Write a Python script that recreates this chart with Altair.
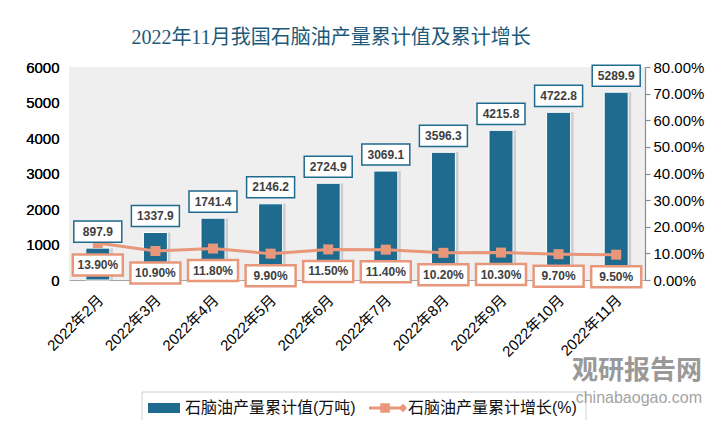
import altair as alt
import pandas as pd

months = ["2022年2月", "2022年3月", "2022年4月", "2022年5月", "2022年6月",
          "2022年7月", "2022年8月", "2022年9月", "2022年10月", "2022年11月"]
output = [897.9, 1337.9, 1741.4, 2146.2, 2724.9, 3069.1, 3596.3, 4215.8, 4722.8, 5289.9]
growth = [0.139, 0.109, 0.118, 0.099, 0.115, 0.114, 0.102, 0.103, 0.097, 0.095]

title_text = "2022年11月我国石脑油产量累计值及累计增长"
legend_bar = "石脑油产量累计值(万吨)"
legend_line = "石脑油产量累计增长(%)"

BAR = "#1F6A8F"
SALMON = "#E8977A"
FONT = "Liberation Sans, Noto Sans CJK SC"

df = pd.DataFrame({"month": months, "output": output, "growth": growth})
one = pd.DataFrame({"k": [0]})

xenc = alt.X("month:N", sort=months,
             scale=alt.Scale(paddingInner=0, paddingOuter=0),
             axis=alt.Axis(title=None, labelAngle=-45, labelAlign="right",
                           labelBaseline="middle", labelFontSize=15, labelFont=FONT,
                           labelColor="#000", labelPadding=17, labelOffset=3, ticks=False,
                           domainColor="#a6a6a6", domainWidth=1.2))

yl = alt.Y("output:Q", scale=alt.Scale(domain=[0, 6000]),
           axis=alt.Axis(title=None, values=[0, 1000, 2000, 3000, 4000, 5000, 6000],
                         format="d", grid=False, domain=False, ticks=False, labelFontSize=15,
                         labelFont=FONT, labelColor="#000", labelPadding=10))

base = alt.Chart(df).encode(x=xenc)

shadow = base.mark_bar(size=27, color="#000", opacity=0.14, xOffset=1.5).encode(y=yl)
bars = base.mark_bar(size=24, color=BAR, stroke="white", strokeWidth=1).encode(y=yl)
box_path = "M-1,-0.44H1V0.44H-1Z"
bar_box = base.mark_point(shape=box_path, size=48 * 48, filled=True, fill="white",
                          stroke=BAR, strokeWidth=1.5, opacity=1, yOffset=-16.5).encode(y=yl)
bar_txt = base.mark_text(fontSize=12, fontWeight="bold", color="#404040", font=FONT,
                         dy=-16.5, baseline="middle").encode(
    y=yl, text=alt.Text("output:Q", format=".1f"))

yr = alt.Y("growth:Q", scale=alt.Scale(domain=[0, 0.8]),
           axis=alt.Axis(title=None, orient="right", format=".2%",
                         values=[0, 0.1, 0.2, 0.3, 0.4, 0.5, 0.6, 0.7, 0.8],
                         grid=False, domain=True, domainColor="#8c8c8c", domainWidth=1.2,
                         ticks=True, tickColor="#8c8c8c", tickSize=5, tickWidth=1.2,
                         labelFontSize=15, labelFont=FONT, labelColor="#000",
                         labelPadding=3))

line = base.mark_line(color=SALMON, strokeWidth=3).encode(y=yr)
pts = base.mark_point(shape="square", size=100, filled=True, color=SALMON,
                      opacity=1).encode(y=yr)
pbox_path = "M-1,-0.42H1V0.42H-1Z"
pct_box = base.mark_point(shape=pbox_path, size=50 * 50, filled=True, fill="white",
                          stroke=SALMON, strokeWidth=2.5, opacity=1, yOffset=22).encode(y=yr)
pct_txt = base.mark_text(fontSize=12, fontWeight="bold", color="#404040", font=FONT,
                         dy=22, baseline="middle").encode(
    y=yr, text=alt.Text("growth:Q", format=".2%"))
right = alt.layer(line, pts, pct_box, pct_txt)

bar_boxes = alt.layer(bar_box, bar_txt)

oc = alt.Chart(one)
leg_frame = oc.mark_rect(fill="white", stroke="#d0d0d0", strokeWidth=1).encode(
    x=alt.value(73), x2=alt.value(517), y=alt.value(325), y2=alt.value(355))
leg_bar = oc.mark_rect(color=BAR).encode(
    x=alt.value(79), x2=alt.value(111), y=alt.value(336), y2=alt.value(346))
leg_t1 = oc.mark_text(align="left", baseline="middle", fontSize=16, font=FONT,
                      color="#111").encode(x=alt.value(116), y=alt.value(341),
                                            text=alt.value(legend_bar))
leg_rule = oc.mark_rule(color=SALMON, strokeWidth=3).encode(
    x=alt.value(300), x2=alt.value(335), y=alt.value(341))
leg_sq = oc.mark_point(shape="square", size=90, filled=True, color=SALMON, opacity=1).encode(
    x=alt.value(316), y=alt.value(341))
leg_dm = oc.mark_point(shape="diamond", size=70, filled=True, color=SALMON, opacity=1).encode(
    x=alt.value(334), y=alt.value(341))
leg_t2 = oc.mark_text(align="left", baseline="middle", fontSize=16, font=FONT,
                      color="#111").encode(x=alt.value(339), y=alt.value(341),
                                            text=alt.value(legend_line))
wm1 = oc.mark_text(align="right", baseline="alphabetic", fontSize=26, fontWeight="bold",
                   font="Noto Sans CJK SC", color="#8f8f8f", opacity=0.9).encode(
    x=alt.value(633), y=alt.value(312), text=alt.value("观研报告网"))
wm2 = oc.mark_text(align="right", baseline="alphabetic", fontSize=16, font=FONT,
                   color="#9a9a9a", opacity=0.9).encode(
    x=alt.value(633), y=alt.value(336), text=alt.value("chinabaogao.com"))
deco = alt.layer(leg_frame, leg_bar, leg_t1, leg_rule, leg_sq, leg_dm, leg_t2, wm1, wm2)

chart = alt.layer(
    alt.layer(shadow, bars),
    right,
    bar_boxes,
    deco,
).resolve_scale(y="independent").properties(
    width=576, height=213,
    autosize=alt.AutoSizeParams(type="none"),
    padding={"left": 61, "top": 59, "right": 62, "bottom": 140},
    background="white",
    title=alt.TitleParams(title_text, font="Liberation Serif, Noto Sans CJK SC",
                          fontSize=20, fontWeight="normal", color="#1C5A7A",
                          anchor="middle", frame="group", dx=-26, offset=12),
).configure_view(fill="#efefef", stroke=None)

chart.save("out.html", embed_options={"renderer": "svg", "actions": False})
